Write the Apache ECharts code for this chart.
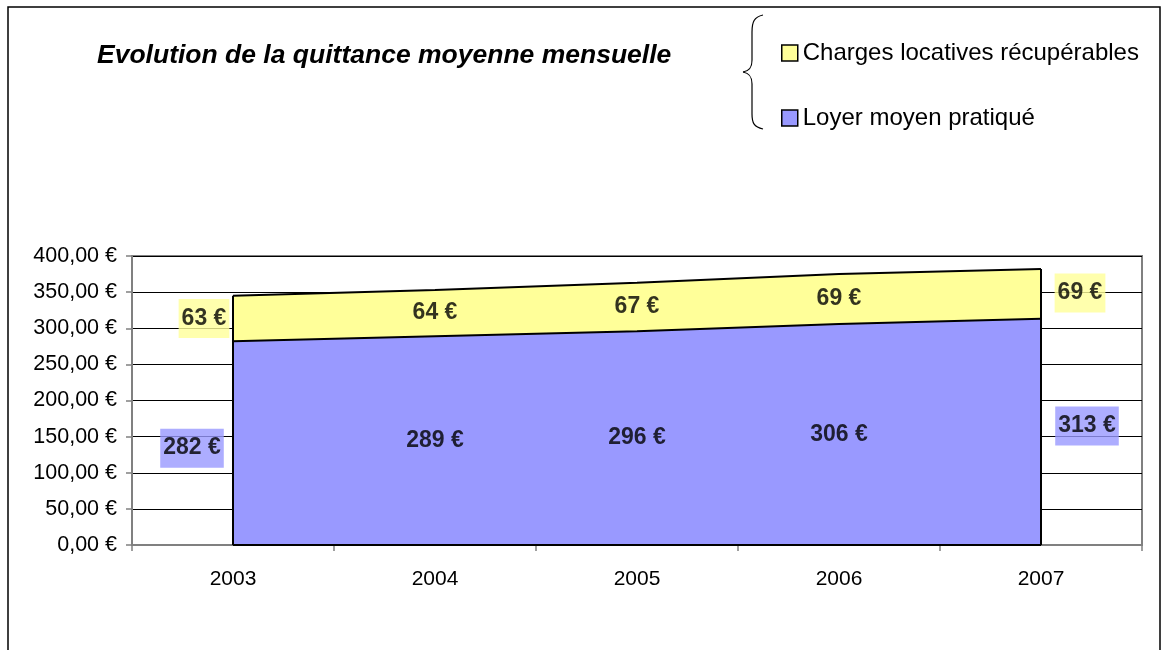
<!DOCTYPE html>
<html>
<head>
<meta charset="utf-8">
<script src="https://cdn.jsdelivr.net/npm/echarts@6/dist/echarts.min.js"></script>
<style>
  html, body { margin: 0; padding: 0; background: #fff; }
  #chart { width: 1165px; height: 650px; }
</style>
</head>
<body>
<div id="chart"></div>
<script>
// données
var years = ['2003', '2004', '2005', '2006', '2007'];
var loyer = [282, 289, 296, 306, 313];     // Loyer moyen pratiqué
var charges = [63, 64, 67, 69, 69];        // Charges locatives récupérables
var yTicks = [0, 50, 100, 150, 200, 250, 300, 350, 400];

var FONT = '"Liberation Sans", Arial, sans-serif';
var last = years.length - 1;

// étiquettes au milieu de chaque zone
var labelData = [];
for (var i = 0; i < years.length; i++) {
  var l1 = { value: [i, loyer[i] / 2], txt: loyer[i] + ' €' };
  var l2 = { value: [i, loyer[i] + charges[i] / 2], txt: charges[i] + ' €' };
  if (i === 0) {
    l1.label = { offset: [-41, 5], backgroundColor: '#9999ff', padding: [8, 3] };
    l2.label = { offset: [-29, 0], backgroundColor: '#ffff99', padding: [8, 3] };
  } else if (i === last) {
    l1.label = { offset: [46, -6], backgroundColor: '#9999ff', padding: [8, 3] };
    l2.label = { offset: [39, -1], backgroundColor: '#ffff99', padding: [8, 3] };
  }
  labelData.push(l1, l2);
}

var totalFirst = loyer[0] + charges[0];
var totalLast = loyer[last] + charges[last];

var braceStyle = { fill: 'none', stroke: '#000', lineWidth: 1.2 };

var myChart = echarts.init(document.getElementById('chart'));
myChart.setOption({
  animation: false,
  textStyle: { fontFamily: FONT },
  title: {
    text: 'Evolution de la quittance moyenne mensuelle',
    left: 92,
    top: 37,
    textStyle: { fontFamily: FONT, fontSize: 26.5, fontWeight: 'bold', fontStyle: 'italic', color: '#000' }
  },
  legend: {
    orient: 'vertical',
    left: 776,
    top: 36,
    itemGap: 41,
    itemWidth: 16,
    itemHeight: 16,
    icon: 'rect',
    textStyle: { fontFamily: FONT, fontSize: 24, color: '#000' },
    data: [
      { name: 'Charges locatives récupérables', itemStyle: { color: '#ffff99', borderColor: '#000', borderWidth: 1.5 } },
      { name: 'Loyer moyen pratiqué', itemStyle: { color: '#9999ff', borderColor: '#000', borderWidth: 1.5 } }
    ]
  },
  graphic: [
    { type: 'rect', shape: { x: 8, y: 7, width: 1152, height: 700 },
      style: { fill: 'none', stroke: '#000', lineWidth: 1.5 } },
    // accolade de la légende
    { type: 'bezierCurve', shape: { x1: 763, y1: 15, cpx1: 754, cpy1: 17, cpx2: 752, cpy2: 22, x2: 752, y2: 32 }, style: braceStyle },
    { type: 'line', shape: { x1: 752, y1: 32, x2: 752, y2: 60 }, style: braceStyle },
    { type: 'bezierCurve', shape: { x1: 752, y1: 60, cpx1: 752, cpy1: 68, cpx2: 749, cpy2: 71, x2: 743, y2: 72 }, style: braceStyle },
    { type: 'bezierCurve', shape: { x1: 743, y1: 72, cpx1: 749, cpy1: 73, cpx2: 752, cpy2: 76, x2: 752, y2: 84 }, style: braceStyle },
    { type: 'line', shape: { x1: 752, y1: 84, x2: 752, y2: 114 }, style: braceStyle },
    { type: 'bezierCurve', shape: { x1: 752, y1: 114, cpx1: 752, cpy1: 123, cpx2: 754, cpy2: 127, x2: 763, y2: 129 }, style: braceStyle }
  ],
  grid: {
    left: 132, right: 23, top: 256, bottom: 105,
    show: true, borderColor: '#808080', borderWidth: 2, backgroundColor: 'transparent'
  },
  xAxis: {
    type: 'category',
    data: years,
    boundaryGap: true,
    axisLine: { lineStyle: { color: '#808080', width: 2 } },
    axisTick: { show: true, length: 6, lineStyle: { color: '#808080', width: 1.5 } },
    axisLabel: { color: '#000', fontSize: 21, margin: 24, fontFamily: FONT },
    splitLine: { show: false }
  },
  yAxis: {
    type: 'value',
    min: 0, max: 400, interval: 50,
    axisLine: { show: true, lineStyle: { color: '#808080', width: 2 } },
    axisTick: { show: true, length: 6, lineStyle: { color: '#808080', width: 1.5 } },
    axisLabel: {
      color: '#000', fontSize: 21.5, margin: 15, fontFamily: FONT,
      formatter: function (v) { return v.toFixed(2).replace('.', ',') + ' €'; }
    },
    splitLine: { show: true, lineStyle: { color: '#000', width: 1 } }
  },
  series: [
    {
      name: 'Loyer moyen pratiqué',
      type: 'line',
      stack: 'q',
      data: loyer,
      symbol: 'none',
      lineStyle: { color: '#000', width: 2 },
      itemStyle: { color: '#9999ff' },
      areaStyle: { color: '#9999ff', opacity: 1 },
      z: 3,
      markLine: {
        symbol: 'none', silent: true, label: { show: false },
        lineStyle: { color: '#000', width: 2, type: 'solid' },
        data: [
          [{ coord: [years[0], 0] }, { coord: [years[0], totalFirst] }],
          [{ coord: [years[last], 0] }, { coord: [years[last], totalLast] }],
          [{ coord: [years[0], 0] }, { coord: [years[last], 0] }]
        ]
      }
    },
    {
      name: 'Charges locatives récupérables',
      type: 'line',
      stack: 'q',
      data: charges,
      symbol: 'none',
      lineStyle: { color: '#000', width: 2 },
      itemStyle: { color: '#ffff99' },
      areaStyle: { color: '#ffff99', opacity: 1 },
      z: 2
    },
    {
      name: 'etiquettes',
      type: 'scatter',
      data: labelData,
      symbolSize: 0,
      silent: true,
      z: 10,
      label: {
        show: true,
        position: 'inside',
        color: '#000',
        textBorderWidth: 0,
        fontSize: 23,
        fontWeight: 'bold',
        fontFamily: FONT,
        formatter: function (p) { return p.data.txt; }
      }
    }
  ]
});
</script>
</body>
</html>
